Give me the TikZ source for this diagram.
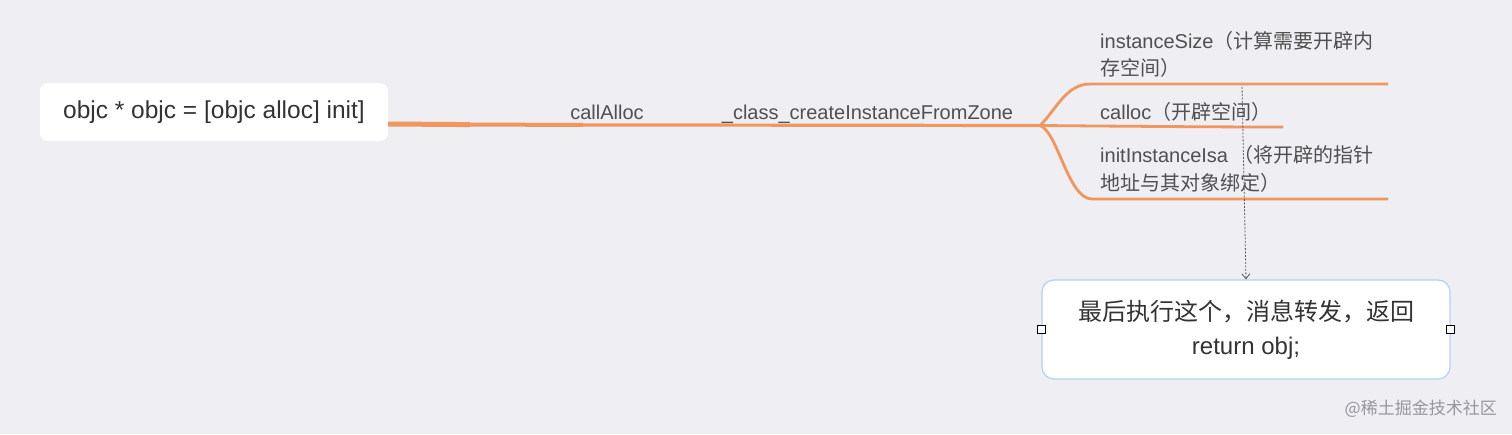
\documentclass[tikz,border=0pt]{standalone}
\usepackage{fontspec}
\setmainfont{Liberation Sans}
\newfontfamily\cjk{Noto Sans CJK SC}
\usetikzlibrary{arrows.meta}
\definecolor{bg}{RGB}{238,238,243}
\definecolor{org}{RGB}{240,150,95}
\definecolor{txt}{RGB}{51,51,51}
\definecolor{lbl}{RGB}{80,80,80}
\definecolor{bord}{RGB}{180,208,245}
\definecolor{wm}{RGB}{150,150,156}
\begin{document}
\begin{tikzpicture}[x=1pt,y=-1pt,
  rootbox/.style={fill=white, rounded corners=8pt, minimum width=348pt, minimum height=58pt, inner sep=0pt, text=txt, font=\fontsize{24.5}{30}\selectfont},
  finalbox/.style={fill=white, draw=bord, line width=1.2pt, rounded corners=12pt, minimum width=408pt, minimum height=99pt, inner sep=0pt, text=txt, align=center, font=\fontsize{24}{34}\selectfont},
  lbltext/.style={text=lbl, inner sep=0pt, font=\fontsize{20}{27}\selectfont},
  branch/.style={draw=org, line width=2.8pt},
  handle/.style={draw=black, fill=white, line width=0.8pt, minimum size=8pt, inner sep=0pt},
  dasharrow/.style={draw=black!65, line width=0.8pt, dash pattern=on 2pt off 1.5pt, -{Straight Barb[length=5pt,width=8pt]}}
]
\useasboundingbox[fill=bg] (0,0) rectangle (1512,434);

% root
\node[rootbox] (root) at (214,112) {objc * objc = [objc alloc] init]};

% labels on the trunk
\node[lbltext, anchor=base] (callalloc) at (607,119) {callAlloc};
\node[lbltext, anchor=base] (createinst) at (867.5,119) {\_class\_createInstanceFromZone};

% trunk waypoints
\coordinate (a1) at (470,124.6);
\coordinate (a2) at (583,124.9);
\coordinate (fork) at (1040,125.5);

\draw[branch, line width=5pt] ([yshift=-12pt]root.east) -- (a1);
\draw[branch, line width=4pt] (a1) -- (a2);
\draw[branch, line width=3.2pt] (a2) -- (fork);

% branch end points
\coordinate (b1s) at (1090,84);
\coordinate (b1e) at (1388,84);
\coordinate (b2e) at (1283,127);
\coordinate (b3s) at (1092,199);
\coordinate (b3e) at (1388,199);

\draw[branch] (fork) .. controls (1056,110) and (1066,84) .. (b1s) -- (b1e);
\draw[branch] (fork) .. controls (1100,126) and (1200,127) .. (b2e);
\draw[branch] (fork) .. controls (1058,132) and (1068,199) .. (b3s) -- (b3e);

% branch texts
\node[lbltext, anchor=base west] (t1a) at (1100,48) {instanceSize{\cjk（计算需要开辟内}};
\node[lbltext, anchor=base west] (t1b) at (1100,75) {\cjk 存空间）};
\node[lbltext, anchor=base west] (t2) at (1100,119) {calloc{\cjk（开辟空间）}};
\node[lbltext, anchor=base west] (t3a) at (1100,162) {initInstanceIsa {\cjk（将开辟的指针}};
\node[lbltext, anchor=base west] (t3b) at (1100,190) {\cjk 地址与其对象绑定）};

% final box
\node[finalbox] (final) at (1246,329.5) {{\cjk 最后执行这个，消息转发，返回}\\return obj;};
\node[handle] (hl) at (final.west) {};
\node[handle] (hr) at (final.east) {};

\coordinate (ds) at (1242,87);
\draw[dasharrow] (ds) -- (final.north);

% watermark
\node[anchor=base east, inner sep=0pt, text=wm, font=\cjk\fontsize{17}{20}\selectfont] (wmk) at (1497,414) {@稀土掘金技术社区};
\end{tikzpicture}
\end{document}
